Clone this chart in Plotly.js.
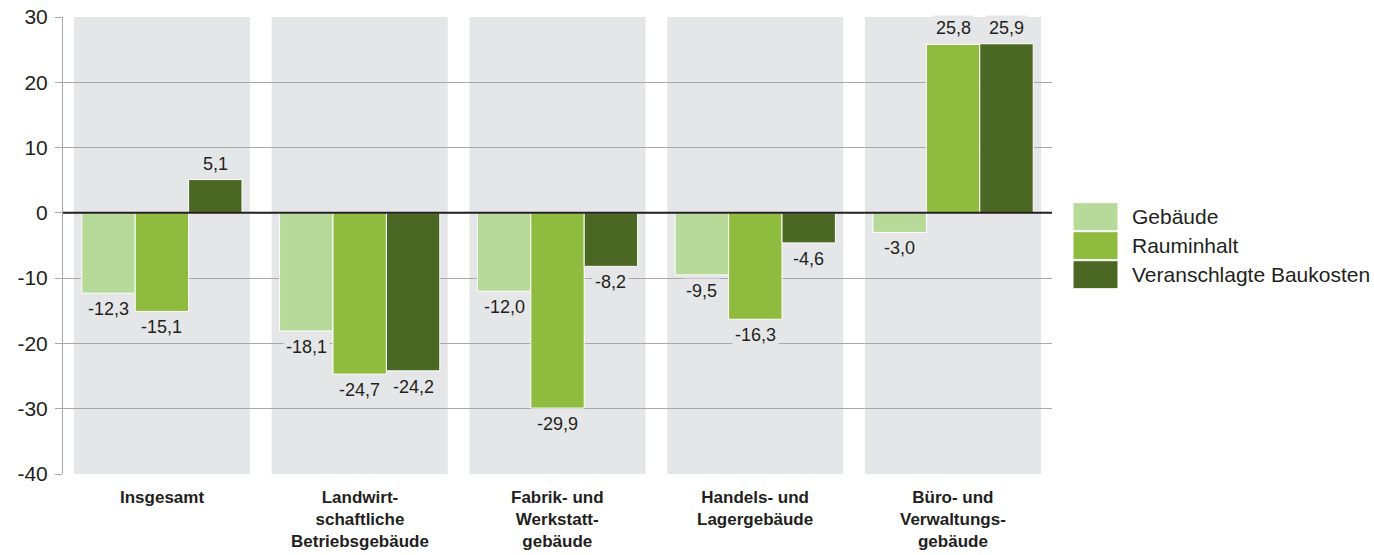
<!DOCTYPE html>
<html>
<head>
<meta charset="utf-8">
<script src="https://cdn.plot.ly/plotly-3.0.1.min.js"></script>
<style>html,body{margin:0;padding:0;background:#fff}#chart{width:1374px;height:555px}</style>
</head>
<body>
<div id="chart"></div>
<script>
// ---- data ----
const categories = ['Insgesamt', 'Landwirtschaftliche Betriebsgebäude', 'Fabrik- und Werkstattgebäude', 'Handels- und Lagergebäude', 'Büro- und Verwaltungsgebäude'];
const categoryLines = [
  ['Insgesamt'],
  ['Landwirt-', 'schaftliche', 'Betriebsgebäude'],
  ['Fabrik- und', 'Werkstatt-', 'gebäude'],
  ['Handels- und', 'Lagergebäude'],
  ['Büro- und', 'Verwaltungs-', 'gebäude']
];
const seriesNames = ['Gebäude', 'Rauminhalt', 'Veranschlagte Baukosten'];
const gebaeude   = [-12.3, -18.1, -12.0, -9.5, -3.0];
const rauminhalt = [-15.1, -24.7, -29.9, -16.3, 25.8];
const baukosten  = [5.1, -24.2, -8.2, -4.6, 25.9];
const yTicks = [30, 20, 10, 0, -10, -20, -30, -40];

// ---- styles ----
const colors = ['#b7da9b', '#8fbc3e', '#4a6823'];
const bandColor = '#e5e6e8';
const gridColor = '#a8a8a8';
const textColor = '#231f20';
const fontFamily = '"Liberation Sans", Arial, Helvetica, sans-serif';
const bargap = 0.19;

const seriesValues = [gebaeude, rauminhalt, baukosten];
const fmt = v => v.toFixed(1).replace('.', ',');

const traces = seriesValues.map((vals, j) => ({
  type: 'bar',
  name: seriesNames[j],
  x: categories,
  y: vals,
  marker: {color: colors[j], line: {color: '#ffffff', width: 1}},
  hoverinfo: 'skip',
  showlegend: false
}));

const shapes = [];
const annotations = [];

// grey category bands
categories.forEach((c, i) => {
  shapes.push({type: 'rect', layer: 'below', xref: 'x', yref: 'paper',
    x0: i - 0.445, x1: i + 0.445, y0: 0, y1: 1,
    fillcolor: bandColor, line: {width: 0}});
});
// zero line on top
shapes.push({type: 'line', layer: 'above', xref: 'paper', yref: 'y',
  x0: 0, x1: 1, y0: 0, y1: 0, line: {color: textColor, width: 2}});

// value labels
const barW = (1 - bargap) / seriesValues.length;
seriesValues.forEach((vals, j) => {
  vals.forEach((v, i) => {
    annotations.push({
      xref: 'x', yref: 'y',
      x: i + (j - (seriesValues.length - 1) / 2) * barW,
      y: v, yshift: v >= 0 ? 16 : -16,
      xanchor: 'center', yanchor: 'middle',
      text: fmt(v), showarrow: false,
      font: {family: fontFamily, size: 18, color: textColor},
      bgcolor: bandColor, borderpad: 2
    });
  });
});

// category labels
categoryLines.forEach((lines, i) => {
  annotations.push({
    xref: 'x', yref: 'paper', x: i, y: 0,
    xanchor: 'center', yanchor: 'top',
    yshift: -12,
    text: lines.map(l => '<b>' + l + '</b>').join('<br>'), showarrow: false,
    font: {family: fontFamily, size: 17, color: textColor}
  });
});

// custom legend
const plotH = 555 - 17 - 81;
seriesNames.forEach((nm, j) => {
  const cy = (474 - (216.7 + j * 29)) / plotH;
  shapes.push({type: 'rect', layer: 'above', xref: 'paper', yref: 'paper',
    xsizemode: 'pixel', ysizemode: 'pixel', xanchor: 1, yanchor: cy,
    x0: 21, x1: 66, y0: -14, y1: 14,
    fillcolor: colors[j], line: {color: '#ffffff', width: 1}});
  annotations.push({xref: 'paper', yref: 'paper', x: 1, y: cy,
    xshift: 78, xanchor: 'left', yanchor: 'middle',
    text: nm, showarrow: false,
    font: {family: fontFamily, size: 21, color: textColor}});
});

const layout = {
  width: 1374, height: 555,
  margin: {l: 63, r: 322, t: 17, b: 81, pad: 0},
  paper_bgcolor: '#ffffff', plot_bgcolor: '#ffffff',
  font: {family: fontFamily, size: 20, color: textColor},
  barmode: 'group', bargap: bargap, bargroupgap: 0,
  showlegend: false,
  xaxis: {type: 'category', range: [-0.5, 4.5], showticklabels: false,
    ticks: '', showgrid: false, zeroline: false, showline: false, fixedrange: true},
  yaxis: {range: [-40, 30], tickvals: yTicks, ticktext: yTicks.map(String),
    showgrid: true, gridcolor: gridColor, gridwidth: 1,
    zeroline: false, showline: true, linecolor: gridColor, linewidth: 1,
    ticks: 'outside', ticklen: 7, tickcolor: gridColor, tickwidth: 1,
    ticklabelstandoff: 3,
    tickfont: {family: fontFamily, size: 21, color: textColor}, fixedrange: true},
  shapes: shapes,
  annotations: annotations
};

Plotly.newPlot('chart', traces, layout, {displayModeBar: false, staticPlot: true});
</script>
</body>
</html>
